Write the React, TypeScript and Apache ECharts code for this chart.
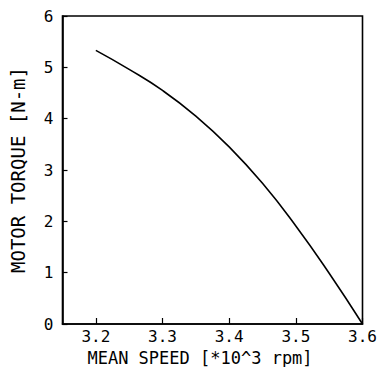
import React, { useEffect, useRef } from "react";
import * as echarts from "echarts";

const speed = [3.2, 3.25, 3.3, 3.35, 3.4, 3.45, 3.5, 3.55, 3.6];
const torque = [5.33, 4.96, 4.55, 4.05, 3.45, 2.74, 1.91, 0.99, 0];
const xTicks = [3.2, 3.3, 3.4, 3.5, 3.6];
const yTicks = [0, 1, 2, 3, 4, 5, 6];

const FONT = "DejaVu Sans Mono";

export default function App() {
  const ref = useRef<HTMLDivElement>(null);
  useEffect(() => {
    if (!ref.current) return;
    const chart = echarts.init(ref.current, undefined, { renderer: "svg" });
    chart.setOption({
      animation: false,
      backgroundColor: "#ffffff",
      grid: {
        left: 62.5,
        right: 15.5,
        top: 16,
        bottom: 43,
        outerBoundsMode: "none",
        containLabel: false,
        show: true,
        borderColor: "#000",
        borderWidth: 1.6,
        backgroundColor: "transparent",
      },
      xAxis: {
        type: "value",
        min: 3.15,
        max: 3.6,
        name: "MEAN SPEED [*10^3 rpm]",
        nameLocation: "middle",
        nameGap: 20,
        nameTextStyle: {
          fontFamily: FONT,
          fontSize: 17,
          lineHeight: 18,
          color: "#000",
          padding: [0, 25, 0, 0],
        },
        axisLine: { show: true, lineStyle: { color: "#000", width: 1.6 } },
        axisTick: {
          show: true,
          inside: true,
          length: 6,
          customValues: xTicks,
          lineStyle: { color: "#000", width: 1.2 },
        },
        axisLabel: {
          customValues: xTicks,
          fontFamily: FONT,
          fontSize: 16,
          color: "#000",
          margin: 4,
          formatter: (v: number) => v.toFixed(1),
        },
        splitLine: { show: false },
      },
      yAxis: {
        type: "value",
        min: 0,
        max: 6,
        interval: 1,
        name: "MOTOR TORQUE [N-m]",
        nameLocation: "middle",
        nameGap: 35,
        nameTextStyle: { fontFamily: FONT, fontSize: 19, color: "#000" },
        axisLine: { show: true, lineStyle: { color: "#000", width: 1.6 } },
        axisTick: {
          show: true,
          inside: true,
          length: 5,
          customValues: yTicks,
          lineStyle: { color: "#000", width: 1.2 },
        },
        axisLabel: {
          customValues: yTicks,
          fontFamily: FONT,
          fontSize: 16,
          color: "#000",
          margin: 9,
        },
        splitLine: { show: false },
      },
      series: [
        {
          type: "line",
          data: speed.map((s, i) => [s, torque[i]]),
          smooth: true,
          showSymbol: false,
          lineStyle: { color: "#000", width: 1.6 },
        },
      ],
    });
    return () => chart.dispose();
  }, []);
  return (
    <div
      ref={ref}
      style={{ position: "fixed", left: 0, top: 0, width: 378, height: 367 }}
    />
  );
}
